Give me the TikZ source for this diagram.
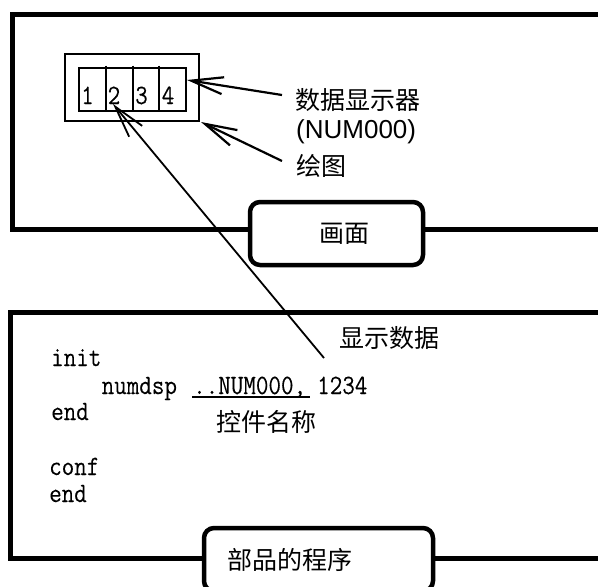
\documentclass[tikz,border=0pt]{standalone}
\usepackage{fontspec}
\newfontfamily\cjk{Noto Sans CJK SC}
\newfontfamily\arial{Liberation Sans}
\newfontfamily\codefont[FakeStretch=0.87,FakeBold=0.15]{Latin Modern Mono}
\usetikzlibrary{arrows.meta}
\tikzset{
  frame/.style={line width=5pt, line join=miter},
  labelbox/.style={draw, line width=4.5pt, rounded corners=10pt, fill=white, inner sep=0pt},
  dispbox/.style={draw, line width=2.4pt, inner sep=0pt},
  cn/.style={font=\cjk\fontsize{25}{30}\selectfont, inner sep=0pt, anchor=west},
  lat/.style={font=\arial\fontsize{26}{30}\selectfont, inner sep=0pt, anchor=west},
  code/.style={font=\codefont\fontsize{28}{32}\selectfont, inner sep=0pt, anchor=base west},
  ptr/.style={line width=2.2pt, -{Straight Barb[length=32pt,width=17pt]}}
}
\begin{document}
\begin{tikzpicture}[x=1pt,y=-1pt]
\useasboundingbox (0,0) rectangle (598,587);
\clip (0,0) rectangle (598,587);
% frames
\draw[frame] (620,14.5) -- (12.5,14.5) -- (12.5,229.5) -- (620,229.5);
\draw[frame] (620,312) -- (10,312) -- (10,558) -- (620,558);
% label boxes
\node[labelbox, minimum width=173pt, minimum height=63pt] (scrbox) at (336.5,233.5) {};
\node[cn, anchor=center] (scrlbl) at (344,233.5) {画面};
\node[labelbox, minimum width=229pt, minimum height=63pt] (prgbox) at (318.5,559.5) {};
\node[cn] (prglbl) at (227,560) {部品的程序};
% display
\node[dispbox, minimum width=134pt, minimum height=67pt] (disp) at (132,87.5) {};
\node[dispbox, minimum width=107pt, minimum height=43pt] (numbox) at (132.5,89.5) {};
\draw[line width=2.4pt] (106,65.5) -- (106,111);
\draw[line width=2.4pt] (133,65.5) -- (133,111);
\draw[line width=2.4pt] (159,65.5) -- (159,111);
\node[code, anchor=base] (d1) at (87.5,104) {1};
\node[code, anchor=base] (d2) at (114,104) {2};
\node[code, anchor=base] (d3) at (141.5,104) {3};
\node[code, anchor=base] (d4) at (168,104) {4};
% labels on the right
\node[cn] (lblnum) at (295,100) {数据显示器};
\node[lat] (lblid) at (296,132) {(NUM000)};
\node[cn] (lbldraw) at (296,166) {绘图};
\node[cn] (lbldata) at (339,338) {显示数据};
% code
\node[code] (c1) at (51,366) {init};
\node[code] (c2) at (101.5,394) {numdsp};
\node[code] (c3) at (193,394) {..NUM000,};
\node[code] (c4) at (317,394) {1234};
\node[code] (c5) at (51,420) {end};
\node[code] (c6) at (49,475) {conf};
\node[code] (c7) at (49,502) {end};
\draw[line width=1.6pt] (192,397) -- (310,397);
\node[cn] (lblname) at (216,422) {控件名称};
% arrows
\coordinate (t1) at (282,95);  \coordinate (h1) at (187,80);
\coordinate (t2) at (282,161); \coordinate (h2) at (201,122);
\coordinate (t3) at (324,358); \coordinate (h3) at (113,104);
\draw[ptr] (t1) -- (h1);
\draw[ptr] (t2) -- (h2);
\draw[ptr, line width=1.8pt] (t3) -- (h3);
\end{tikzpicture}
\end{document}
